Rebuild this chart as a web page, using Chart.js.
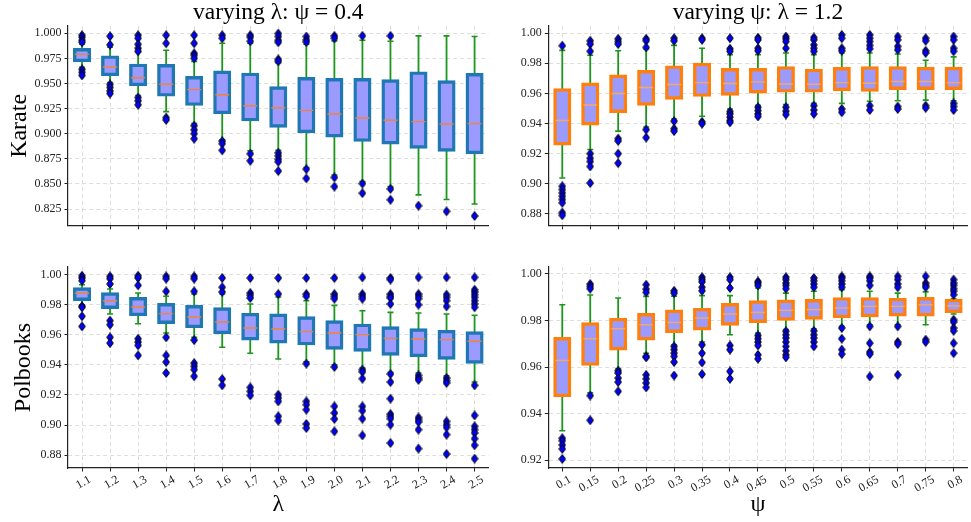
<!DOCTYPE html>
<html>
<head>
<meta charset="utf-8">
<title>varying lambda / psi</title>
<script src="https://cdn.jsdelivr.net/npm/chart.js@4.4.0/dist/chart.umd.min.js"></script>
<style>
    html, body { margin: 0; padding: 0; background: #fff; overflow: hidden; }
    body { width: 971px; height: 522px; position: relative; }
    .panel { position: absolute; }
</style>
</head>
<body>
<div class="panel" style="left:0;top:0"><canvas id="cTL" width="497" height="236"></canvas></div>
<div class="panel" style="left:490px;top:0"><canvas id="cTR" width="486" height="236"></canvas></div>
<div class="panel" style="left:0;top:240px"><canvas id="cBL" width="497" height="282"></canvas></div>
<div class="panel" style="left:490px;top:240px"><canvas id="cBR" width="486" height="282"></canvas></div>

<script>
// Categorias
const lambdas = ['1.1', '1.2', '1.3', '1.4', '1.5', '1.6', '1.7', '1.8', '1.9', '2.0', '2.1', '2.2', '2.3', '2.4', '2.5'];
const psis = ['0.1', '0.15', '0.2', '0.25', '0.3', '0.35', '0.4', '0.45', '0.5', '0.55', '0.6', '0.65', '0.7', '0.75', '0.8'];

// Ticks del eje y
const ticksKarateLambda = [0.825, 0.850, 0.875, 0.900, 0.925, 0.950, 0.975, 1.000];
const ticksKaratePsi = [0.88, 0.90, 0.92, 0.94, 0.96, 0.98, 1.00];
const ticksPolLambda = [0.88, 0.90, 0.92, 0.94, 0.96, 0.98, 1.00];
const ticksPolPsi = [0.92, 0.94, 0.96, 0.98, 1.00];

// Karate, variando lambda (psi = 0.4)
const kLamQ1  = [0.9728, 0.9590, 0.9490, 0.9386, 0.9294, 0.9212, 0.9140, 0.9077, 0.9022, 0.8979, 0.8936, 0.8910, 0.8867, 0.8838, 0.8812];
const kLamMed = [0.9790, 0.9664, 0.9557, 0.9492, 0.9439, 0.9388, 0.9278, 0.9258, 0.9232, 0.9196, 0.9156, 0.9133, 0.9120, 0.9097, 0.9100];
const kLamQ3  = [0.9836, 0.9762, 0.9680, 0.9676, 0.9557, 0.9612, 0.9590, 0.9455, 0.9547, 0.9537, 0.9537, 0.9524, 0.9603, 0.9514, 0.9586];
const kLamLo  = [0.9660, 0.9510, 0.9380, 0.9220, 0.9100, 0.8940, 0.8830, 0.8835, 0.8664, 0.8588, 0.8523, 0.8473, 0.8391, 0.8345, 0.8300];
const kLamHi  = [0.9890, 0.9860, 0.9810, 0.9830, 0.9720, 0.9900, 0.9900, 0.9705, 0.9890, 0.9924, 0.9930, 0.9920, 0.9974, 0.9974, 0.9967];
const kLamOut = [
    [0.998, 0.996, 0.993, 0.991, 0.964, 0.961, 0.958],
    [0.997, 0.9885, 0.949, 0.946, 0.9426, 0.940],
    [0.998, 0.995, 0.989, 0.985, 0.982, 0.936, 0.9327, 0.9288],
    [0.998, 0.990, 0.916, 0.9137],
    [0.998, 0.990, 0.980, 0.978, 0.975, 0.908, 0.9038, 0.900, 0.895],
    [0.998, 0.995, 0.8926, 0.890, 0.8834],
    [0.998, 0.996, 0.992, 0.880, 0.873],
    [0.9997, 0.9967, 0.993, 0.991, 0.974, 0.972, 0.881, 0.878, 0.8746, 0.872, 0.8628],
    [0.9967, 0.9934, 0.9912, 0.8647, 0.8555],
    [0.9974, 0.995, 0.8565, 0.8473],
    [0.9974, 0.8503, 0.8408],
    [0.9974, 0.845, 0.8342],
    [0.8283],
    [0.8227],
    [0.8181]
];

// Karate, variando psi (lambda = 1.2)
const kPsiQ1  = [0.9266, 0.9399, 0.9482, 0.9530, 0.9570, 0.9589, 0.9596, 0.9611, 0.9617, 0.9617, 0.9626, 0.9622, 0.9635, 0.9635, 0.9635];
const kPsiMed = [0.9420, 0.9523, 0.9600, 0.9640, 0.9659, 0.9672, 0.9666, 0.9677, 0.9663, 0.9661, 0.9672, 0.9668, 0.9679, 0.9679, 0.9672];
const kPsiQ3  = [0.9624, 0.9661, 0.9714, 0.9744, 0.9775, 0.9792, 0.9757, 0.9757, 0.9770, 0.9753, 0.9764, 0.9770, 0.9770, 0.9766, 0.9766];
const kPsiLo  = [0.9038, 0.9228, 0.9350, 0.9377, 0.9430, 0.9449, 0.9497, 0.9521, 0.9526, 0.9534, 0.9534, 0.9548, 0.9552, 0.9556, 0.9552];
const kPsiHi  = [0.9886, 0.9854, 0.9884, 0.9895, 0.9919, 0.9900, 0.9858, 0.9858, 0.9869, 0.9858, 0.9869, 0.9869, 0.9862, 0.9821, 0.9843];
const kPsiOut = [
    [0.9917, 0.8984, 0.8962, 0.894, 0.8918, 0.8896, 0.8874, 0.8809, 0.8791],
    [0.995, 0.9928, 0.988, 0.920, 0.917, 0.9148, 0.9115, 0.9005],
    [0.9963, 0.9945, 0.9928, 0.930, 0.9285, 0.920, 0.9137],
    [0.9963, 0.995, 0.9906, 0.936, 0.9307],
    [0.9967, 0.995, 0.9416, 0.9366, 0.935],
    [0.9967, 0.9956, 0.9412, 0.9399],
    [0.9967, 0.9897, 0.988, 0.948, 0.9464, 0.9443, 0.942, 0.9408],
    [0.997, 0.9956, 0.990, 0.9884, 0.9508, 0.9486, 0.9464, 0.9447],
    [0.9978, 0.9963, 0.9945, 0.990, 0.9508, 0.9482, 0.946],
    [0.9972, 0.9956, 0.9923, 0.990, 0.988, 0.9519, 0.949, 0.9464],
    [0.9989, 0.9967, 0.990, 0.9884, 0.9497, 0.9475],
    [0.9989, 0.9967, 0.9945, 0.9919, 0.9897, 0.9519, 0.949],
    [0.9978, 0.9956, 0.9913, 0.989, 0.9513, 0.9497],
    [0.9967, 0.995, 0.9884, 0.9869, 0.9519, 0.9504],
    [0.9978, 0.9956, 0.990, 0.988, 0.9534, 0.9513, 0.949]
];

// Polbooks, variando lambda
const pLamQ1  = [0.9836, 0.9783, 0.9736, 0.9683, 0.9656, 0.9616, 0.9574, 0.9554, 0.9541, 0.9512, 0.9499, 0.9472, 0.9463, 0.9446, 0.9419];
const pLamMed = [0.9876, 0.9827, 0.9785, 0.9741, 0.9718, 0.9685, 0.9645, 0.9639, 0.9621, 0.9612, 0.9601, 0.9576, 0.9572, 0.9568, 0.9557];
const pLamQ3  = [0.9905, 0.9871, 0.9840, 0.9800, 0.9787, 0.9772, 0.9734, 0.9730, 0.9712, 0.9685, 0.9663, 0.9645, 0.9632, 0.9621, 0.9612];
const pLamLo  = [0.9800, 0.9738, 0.9674, 0.9612, 0.9583, 0.9517, 0.9477, 0.9439, 0.9421, 0.9401, 0.9379, 0.9350, 0.9346, 0.9328, 0.9286];
const pLamHi  = [0.9933, 0.9905, 0.9878, 0.9856, 0.9871, 0.9871, 0.9805, 0.9851, 0.9827, 0.9796, 0.9760, 0.9749, 0.9745, 0.9738, 0.9730];
const pLamOut = [
    [0.9993, 0.9978, 0.996, 0.979, 0.9783, 0.9723, 0.9656],
    [0.9989, 0.9973, 0.9938, 0.9694, 0.9667, 0.9583, 0.9545],
    [0.9993, 0.9978, 0.9929, 0.9574, 0.9552, 0.953, 0.9463],
    [0.9989, 0.9973, 0.9889, 0.9583, 0.9463, 0.9419, 0.9346],
    [0.9989, 0.9973, 0.9889, 0.9565, 0.9412, 0.939, 0.9368, 0.9324],
    [0.9978, 0.9916, 0.9885, 0.9306, 0.9264],
    [0.9978, 0.9878, 0.9863, 0.9845, 0.925, 0.9224, 0.9197],
    [0.9978, 0.9871, 0.9202, 0.918, 0.9157, 0.9058, 0.9029],
    [0.9978, 0.9871, 0.9856, 0.9408, 0.9157, 0.9135, 0.9102, 0.9007, 0.898],
    [0.9978, 0.9871, 0.9856, 0.984, 0.9386, 0.9124, 0.908, 0.904, 0.8958],
    [0.9982, 0.9871, 0.9856, 0.984, 0.9368, 0.9353, 0.9308, 0.9124, 0.9095, 0.9042, 0.8931],
    [0.9978, 0.9967, 0.9871, 0.9856, 0.9845, 0.9805, 0.9339, 0.9286, 0.9175, 0.9073, 0.9058, 0.9042, 0.9002, 0.888],
    [0.9982, 0.9871, 0.9856, 0.984, 0.980, 0.933, 0.9313, 0.930, 0.905, 0.9035, 0.902, 0.8969, 0.8843],
    [0.9982, 0.9867, 0.9849, 0.9827, 0.9789, 0.9313, 0.9295, 0.928, 0.9024, 0.9002, 0.8984, 0.8936, 0.8807],
    [0.9982, 0.990, 0.9885, 0.9867, 0.9849, 0.9827, 0.9805, 0.9783, 0.9264, 0.9064, 0.8991, 0.8969, 0.8947, 0.8909, 0.8865, 0.8776]
];

// Polbooks, variando psi
const pPsiQ1  = [0.9479, 0.9613, 0.9679, 0.9722, 0.9754, 0.9765, 0.9785, 0.9797, 0.9807, 0.9811, 0.9818, 0.9822, 0.9825, 0.9825, 0.9840];
const pPsiMed = [0.9629, 0.9722, 0.9765, 0.9782, 0.9792, 0.9811, 0.9828, 0.9835, 0.9844, 0.9847, 0.9854, 0.9861, 0.9861, 0.9868, 0.9863];
const pPsiQ3  = [0.9722, 0.9785, 0.9804, 0.9825, 0.9840, 0.9847, 0.9868, 0.9880, 0.9883, 0.9885, 0.9893, 0.9893, 0.9890, 0.9894, 0.9886];
const pPsiLo  = [0.9327, 0.9490, 0.9593, 0.9660, 0.9696, 0.9708, 0.9739, 0.9746, 0.9761, 0.9765, 0.9775, 0.9782, 0.9782, 0.9782, 0.9828];
const pPsiHi  = [0.9868, 0.9910, 0.9897, 0.9904, 0.9905, 0.9907, 0.9907, 0.9940, 0.9918, 0.9926, 0.9933, 0.9926, 0.9918, 0.9923, 0.9894];
const pPsiOut = [
    [0.9295, 0.9284, 0.9266, 0.9249, 0.9206],
    [0.9957, 0.9947, 0.9937, 0.9478, 0.9372],
    [0.9585, 0.9575, 0.9553, 0.9536, 0.9496],
    [0.9954, 0.9935, 0.9921, 0.9646, 0.9642, 0.9567, 0.955, 0.9532, 0.9513],
    [0.9928, 0.9918, 0.9689, 0.9675, 0.966, 0.9646, 0.9622, 0.9564],
    [0.9986, 0.9976, 0.9966, 0.9943, 0.9928, 0.9696, 0.966, 0.962, 0.957],
    [0.9986, 0.9976, 0.994, 0.9693, 0.9675, 0.9582, 0.955],
    [0.9968, 0.9961, 0.9951, 0.9736, 0.9722, 0.9708, 0.9693, 0.9653, 0.9636],
    [0.9986, 0.9976, 0.9961, 0.9951, 0.9937, 0.9754, 0.9739, 0.9725, 0.9708, 0.9689, 0.967, 0.9653, 0.9642],
    [0.9983, 0.9971, 0.9957, 0.9943, 0.9756, 0.9739, 0.9725, 0.9708, 0.9689],
    [0.999, 0.9983, 0.9971, 0.9957, 0.9943, 0.9768, 0.9722, 0.9675, 0.9656],
    [0.999, 0.9983, 0.9971, 0.9951, 0.9775, 0.9703, 0.9665, 0.9656, 0.956],
    [0.999, 0.9976, 0.9957, 0.9943, 0.9775, 0.9708, 0.9699, 0.9567],
    [0.999, 0.9961, 0.9951, 0.9943, 0.9718, 0.9708],
    [0.9976, 0.9961, 0.9951, 0.9937, 0.9926, 0.9911, 0.9804, 0.9794, 0.9768, 0.9756, 0.9703, 0.966]
];

const FUENTE = '"Liberation Serif", "Times New Roman", serif';

// Rombo azul para los outliers (marcador 'd' de matplotlib)
function crearRombo() {
    const c = document.createElement('canvas');
    c.width = 8;
    c.height = 10;
    const g = c.getContext('2d');
    g.beginPath();
    g.moveTo(4, 0.6);
    g.lineTo(7.3, 5);
    g.lineTo(4, 9.4);
    g.lineTo(0.7, 5);
    g.closePath();
    g.fillStyle = '#0000ff';
    g.fill();
    g.lineWidth = 1;
    g.strokeStyle = '#000';
    g.stroke();
    return c;
}
const rombo = crearRombo();

// Titulo centrado sobre el area del grafico
const tituloPanel = {
    id: 'tituloPanel',
    afterDraw(chart, args, opts) {
        if (!opts.text) return;
        const { ctx, chartArea } = chart;
        ctx.save();
        ctx.font = '23.5px ' + FUENTE;
        ctx.fillStyle = '#000';
        ctx.textAlign = 'center';
        ctx.textBaseline = 'middle';
        ctx.fillText(opts.text, (chartArea.left + chartArea.right) / 2, opts.y);
        ctx.restore();
    }
};

function crearPanel(id, p) {
    const ctx = document.getElementById(id).getContext('2d');

    const whiskers = p.lo.map((v, i) => [v, p.hi[i]]);
    const cajas = p.q1.map((v, i) => [v, p.q3[i]]);
    const caps = [];
    p.cats.forEach((c, i) => {
        caps.push({ x: c, y: p.lo[i] });
        caps.push({ x: c, y: p.hi[i] });
    });
    const puntos = [];
    p.out.forEach((lista, i) => lista.forEach(v => puntos.push({ x: p.cats[i], y: v })));

    return new Chart(ctx, {
        type: 'bar',
        data: {
            labels: p.cats,
            datasets: [
                {
                    type: 'bar', data: whiskers, grouped: false, order: 4,
                    backgroundColor: '#1c961c', borderWidth: 0, barThickness: 1.8, inflateAmount: 0
                },
                {
                    type: 'line', data: caps, showLine: false, order: 3,
                    pointStyle: 'line', pointRadius: 3, pointBorderColor: '#1c961c', pointBorderWidth: 1.6
                },
                {
                    type: 'bar', data: cajas, grouped: false, order: 2,
                    backgroundColor: '#9b9bff', borderColor: p.boxColor, borderWidth: 3.4,
                    borderSkipped: false, barThickness: 14.6, inflateAmount: 1.7
                },
                {
                    type: 'line', data: p.med, showLine: false, order: 1,
                    pointStyle: 'line', pointRadius: 7, pointBorderColor: p.medColor, pointBorderWidth: 1.4
                },
                {
                    type: 'line', data: puntos, showLine: false, order: 0,
                    pointStyle: rombo, pointRadius: 4
                }
            ]
        },
        options: {
            responsive: false,
            animation: false,
            events: [],
            layout: { padding: { top: p.top, left: 0, right: 0, bottom: 0 } },
            plugins: {
                legend: { display: false },
                tooltip: { enabled: false },
                tituloPanel: { text: p.title, y: 13 }
            },
            scales: {
                x: {
                    type: 'category',
                    offset: true,
                    grid: { color: '#dedede', lineWidth: 1, offset: false, tickLength: 3.5, tickColor: '#222', tickWidth: 1 },
                    border: { color: '#222', width: 1.2, dash: [4, 3] },
                    ticks: {
                        display: p.showX, minRotation: 30, maxRotation: 30, autoSkip: false,
                        labelOffset: 8, padding: 1,
                        font: { family: FUENTE, size: 12 }, color: '#222'
                    },
                    title: {
                        display: !!p.xLabel, text: p.xLabel,
                        font: { family: FUENTE, size: 24 }, color: '#000', padding: { top: 0, bottom: 3 }
                    },
                    afterFit: s => { s.height = p.xHeight; }
                },
                y: {
                    type: 'linear',
                    min: p.yMin,
                    max: p.yMax,
                    grid: { color: '#dedede', lineWidth: 1, tickLength: 3.5, tickColor: '#222', tickWidth: 1 },
                    border: { color: '#222', width: 1.2, dash: [4, 3] },
                    ticks: {
                        padding: 3,
                        font: { family: FUENTE, size: 12 }, color: '#222',
                        callback: v => Number(v).toFixed(p.dec)
                    },
                    afterBuildTicks: s => { s.ticks = p.yTicks.map(v => ({ value: v })); },
                    title: {
                        display: !!p.yLabel, text: p.yLabel,
                        font: { family: FUENTE, size: 24 }, color: '#000', padding: { top: p.yLabelPad, bottom: 0 }
                    },
                    afterFit: s => { s.width = p.yWidth; }
                }
            }
        },
        plugins: [tituloPanel]
    });
}

crearPanel('cTL', {
    cats: lambdas, q1: kLamQ1, med: kLamMed, q3: kLamQ3, lo: kLamLo, hi: kLamHi, out: kLamOut,
    yTicks: ticksKarateLambda, yMin: 0.8083, yMax: 1.0072, dec: 3,
    boxColor: '#1f77b4', medColor: '#f0823a',
    title: 'varying λ: ψ = 0.4', yLabel: 'Karate', yLabelPad: 5, xLabel: '', showX: false,
    top: 26, xHeight: 8, yWidth: 68
});

crearPanel('cTR', {
    cats: psis, q1: kPsiQ1, med: kPsiMed, q3: kPsiQ3, lo: kPsiLo, hi: kPsiHi, out: kPsiOut,
    yTicks: ticksKaratePsi, yMin: 0.8721, yMax: 1.0048, dec: 2,
    boxColor: '#ff7f0e', medColor: '#f6a768',
    title: 'varying ψ: λ = 1.2', yLabel: '', yLabelPad: 0, xLabel: '', showX: false,
    top: 26, xHeight: 8, yWidth: 58.3
});

crearPanel('cBL', {
    cats: lambdas, q1: pLamQ1, med: pLamMed, q3: pLamQ3, lo: pLamLo, hi: pLamHi, out: pLamOut,
    yTicks: ticksPolLambda, yMin: 0.8714, yMax: 1.0051, dec: 2,
    boxColor: '#1f77b4', medColor: '#f0823a',
    title: '', yLabel: 'Polbooks', yLabelPad: 9.5, xLabel: 'λ', showX: true,
    top: 27, xHeight: 54, yWidth: 68
});

crearPanel('cBR', {
    cats: psis, q1: pPsiQ1, med: pPsiMed, q3: pPsiQ3, lo: pPsiLo, hi: pPsiHi, out: pPsiOut,
    yTicks: ticksPolPsi, yMin: 0.9167, yMax: 1.003, dec: 2,
    boxColor: '#ff7f0e', medColor: '#f6a768',
    title: '', yLabel: '', yLabelPad: 0, xLabel: 'ψ', showX: true,
    top: 27, xHeight: 54, yWidth: 58.3
});
</script>
</body>
</html>
